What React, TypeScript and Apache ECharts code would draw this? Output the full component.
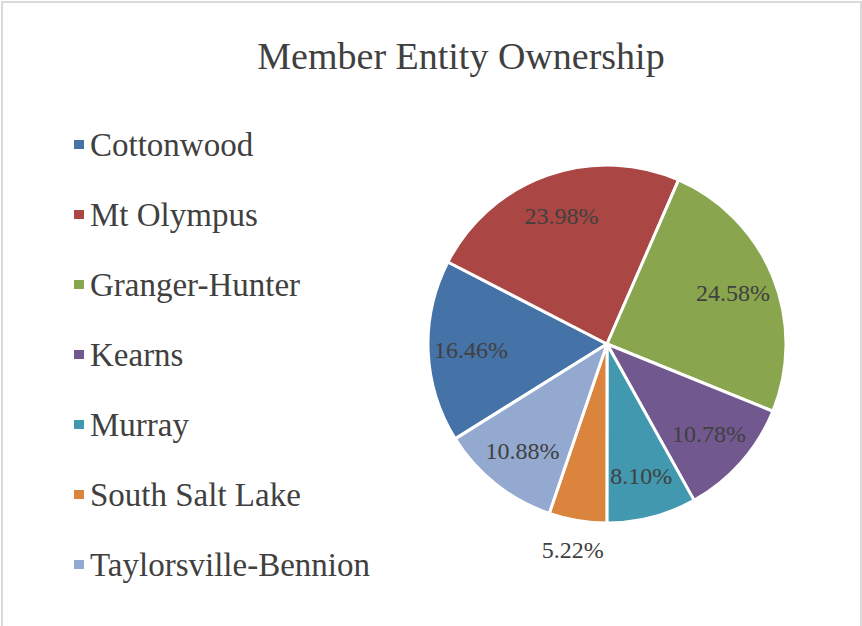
import React, { useEffect, useRef } from "react";
import * as echarts from "echarts";

const names = [
  "Cottonwood",
  "Mt Olympus",
  "Granger-Hunter",
  "Kearns",
  "Murray",
  "South Salt Lake",
  "Taylorsville-Bennion",
];
const values = [16.46, 23.98, 24.58, 10.78, 8.1, 5.22, 10.88];
const colors = ["#4572A7", "#AA4643", "#89A54E", "#71588F", "#4198AF", "#DB843D", "#93A9CF"];
const outsideLabel = ["South Salt Lake"];

const FONT = "Liberation Serif";
const TEXT = "#404040";

export default function App() {
  const ref = useRef<HTMLDivElement>(null);
  useEffect(() => {
    if (!ref.current) return;
    const chart = echarts.init(ref.current, null, { renderer: "svg" });
    const center = [607, 344];
    const R = 179;
    const fmt = (p: any) => "{v|" + p.value.toFixed(2) + "%}";
    const labelStyle = {
      fontFamily: FONT,
      fontSize: 24,
      color: TEXT,
      rich: { v: { fontFamily: FONT, fontSize: 24, color: TEXT } },
    };
    const base = {
      type: "pie",
      center,
      startAngle: 212,
      clockwise: true,
      avoidLabelOverlap: false,
      labelLine: { show: false },
    };
    chart.setOption({
      animation: false,
      textStyle: { fontFamily: FONT },
      graphic: [
        {
          type: "rect",
          shape: { x: 2, y: 2, width: 859, height: 640 },
          style: { fill: "none", stroke: "#d9d9d9", lineWidth: 2 },
          silent: true,
        },
      ],
      title: {
        text: "Member Entity Ownership",
        left: 456,
        top: 32,
        textAlign: "center",
        textStyle: { fontFamily: FONT, fontSize: 38, fontWeight: "normal", color: TEXT },
      },
      legend: {
        data: names,
        orient: "vertical",
        left: 67,
        top: 123,
        itemWidth: 12,
        itemHeight: 11,
        itemGap: 37,
        icon: "rect",
        selectedMode: false,
        textStyle: {
          fontFamily: FONT,
          fontSize: 33,
          lineHeight: 32,
          color: TEXT,
        },
      },
      series: [
        {
          ...base,
          name: "main",
          radius: [0, R],
          label: { show: false },
          itemStyle: { borderColor: "#ffffff", borderWidth: 3 },
          emphasis: { disabled: true },
          data: names.map((n, i) => ({ name: n, value: values[i], itemStyle: { color: colors[i] } })),
        },
        {
          ...base,
          name: "inner-labels",
          radius: [87, R],
          silent: true,
          emphasis: { disabled: true },
          itemStyle: { color: "rgba(0,0,0,0)" },
          label: {
            show: true,
            position: "inside",
            formatter: fmt,
            ...labelStyle,
          },
          data: names.map((n, i) => ({
            name: n,
            value: values[i],
            label: { show: !outsideLabel.includes(n) },
          })),
        },
        {
          ...base,
          name: "outer-labels",
          radius: [R, 233],
          silent: true,
          emphasis: { disabled: true },
          itemStyle: { color: "rgba(0,0,0,0)" },
          label: {
            show: true,
            position: "inside",
            formatter: fmt,
            ...labelStyle,
          },
          data: names.map((n, i) => ({
            name: n,
            value: values[i],
            label: { show: outsideLabel.includes(n) },
          })),
        },
      ],
    });
    return () => chart.dispose();
  }, []);
  return (
    <div
      ref={ref}
      style={{ position: "fixed", left: 0, top: 0, width: 862, height: 626, background: "#fff" }}
    />
  );
}
